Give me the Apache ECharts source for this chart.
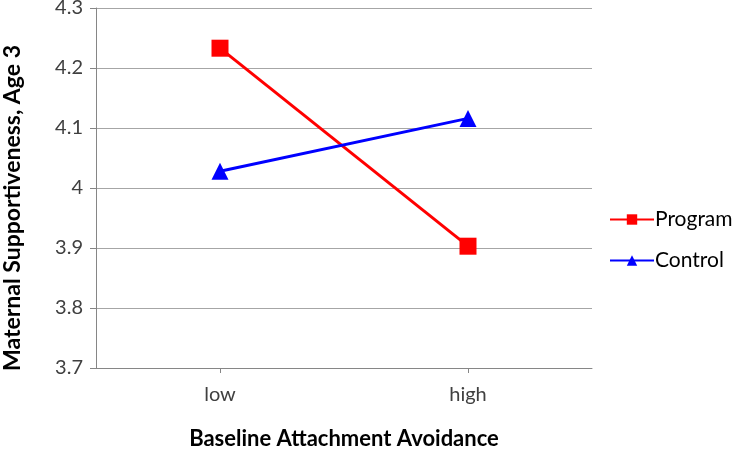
<!DOCTYPE html>
<html>
<head>
<meta charset="utf-8">
<script src="https://cdn.jsdelivr.net/npm/echarts@6/dist/echarts.min.js"></script>
<style>html,body{margin:0;padding:0;background:#fff;}#c{width:735px;height:449px;}</style>
</head>
<body>
<div id="c"></div>
<script>
const categories = ['low', 'high'];
const programValues = [4.233, 3.903];
const controlValues = [4.028, 4.116];
const yTicks = [3.7, 3.8, 3.9, 4, 4.1, 4.2, 4.3];

const chart = echarts.init(document.getElementById('c'));
const font = 'Lato, "Open Sans", sans-serif';
chart.setOption({
  animation: false,
  backgroundColor: '#fff',
  grid: { left: 96, right: 143, top: 8, bottom: 81, containLabel: false, outerBoundsMode: 'none' },
  legend: {
    orient: 'vertical',
    left: 604,
    top: 204,
    itemWidth: 44,
    itemHeight: 13,
    itemGap: 20,
    textStyle: { fontFamily: font, fontSize: 21, color: '#000', padding: [0, 0, 0, -4] },
    data: ['Program', 'Control']
  },
  xAxis: {
    type: 'category',
    data: categories,
    boundaryGap: true,
    name: 'Baseline Attachment Avoidance',
    nameLocation: 'middle',
    nameGap: 60,
    nameTextStyle: { fontFamily: font, fontSize: 22, fontWeight: 'bold', color: '#000' },
    axisLine: { lineStyle: { color: '#868686', width: 1 } },
    axisTick: { show: true, alignWithLabel: true, length: 5, lineStyle: { color: '#868686' } },
    axisLabel: { fontFamily: font, fontSize: 20, color: '#404040', margin: 17 },
    splitLine: { show: false }
  },
  yAxis: {
    type: 'value',
    min: yTicks[0],
    max: yTicks[yTicks.length - 1],
    interval: 0.1,
    name: 'Maternal Supportiveness, Age 3',
    nameLocation: 'middle',
    nameGap: 72,
    nameTextStyle: { fontFamily: font, fontSize: 23, fontWeight: 'bold', color: '#000', padding: [0, 40, 0, 0] },
    axisLine: { show: true, lineStyle: { color: '#868686', width: 1 } },
    axisTick: { show: true, length: 6, lineStyle: { color: '#868686' } },
    axisLabel: {
      fontFamily: font, fontSize: 20, color: '#404040', margin: 13,
      formatter: v => String(Math.round(v * 10) / 10)
    },
    splitLine: { show: true, lineStyle: { color: '#a6a6a6', width: 1 } }
  },
  series: [
    {
      name: 'Program',
      type: 'line',
      data: programValues,
      color: '#ff0000',
      symbol: 'rect',
      symbolSize: 17,
      lineStyle: { width: 3, color: '#ff0000' },
      itemStyle: { color: '#ff0000' }
    },
    {
      name: 'Control',
      type: 'line',
      data: controlValues,
      color: '#0000ff',
      symbol: 'triangle',
      symbolSize: 17,
      lineStyle: { width: 3, color: '#0000ff' },
      itemStyle: { color: '#0000ff' }
    }
  ]
});
</script>
</body>
</html>
